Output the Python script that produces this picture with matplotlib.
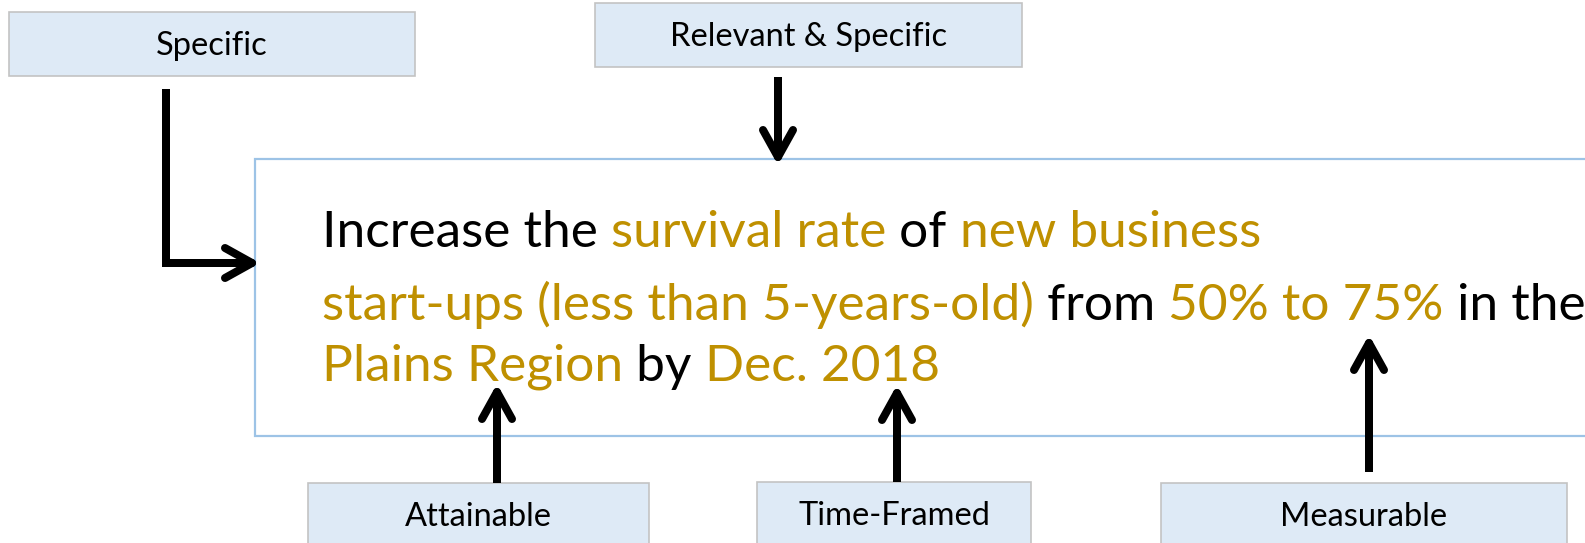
import matplotlib
matplotlib.use("Agg")
import matplotlib.pyplot as plt
from matplotlib.patches import Rectangle

# ===============================
# CONTENT
# ===============================

box_labels = ["Specific", "Relevant & Specific", "Attainable", "Time-Framed", "Measurable"]

goal_line1 = ["Increase the ", "survival rate", " of ", "new business"]
goal_line2 = ["start-ups (less than 5-years-old)", " from ", "50% to 75%", " in the"]
goal_line3 = ["Plains Region", " by ", "Dec. 2018"]
goal_lines = [goal_line1, goal_line2, goal_line3]
highlight = [[False, True, False, True],
             [True, False, True, False],
             [True, False, True]]

# ===============================
# LAYOUT / STYLE
# ===============================

W, H = 1585, 543
GOLD = "#BF9000"
BOX_FILL = "#DEEAF6"
BOX_EDGE = "#C3C3C3"
MAIN_EDGE = "#9DC3E6"
FONT = "Lato"

box_rects = [(9, 12, 415, 76), (595, 3, 1022, 67), (308, 483, 649, 547),
             (757, 482, 1031, 546), (1161, 483, 1567, 547)]
main_rect = (255, 159, 1600, 436)
text_x = 322
baselines = [247, 320, 381]
line1_width = 940
label_size = 23.5

arrows = [
    [(166, 89), (166, 263), (252, 263)],
    [(778, 77), (778, 157)],
    [(497, 483), (497, 392)],
    [(897, 482), (897, 393)],
    [(1369, 472), (1369, 343)],
]

fig = plt.figure(figsize=(W / 100, H / 100), dpi=100)
ax = fig.add_axes([0, 0, 1, 1])
ax.set_xlim(0, W)
ax.set_ylim(H, 0)
ax.axis("off")
renderer = fig.canvas.get_renderer()


def text_width(s, size):
    t = ax.text(0, 0, s + "x", fontsize=size, family=FONT)
    w1 = t.get_window_extent(renderer).width
    t.set_text("x")
    w2 = t.get_window_extent(renderer).width
    t.remove()
    return w1 - w2


# ===============================
# BOXES
# ===============================

for label, (x0, y0, x1, y1) in zip(box_labels, box_rects):
    ax.add_patch(Rectangle((x0, y0), x1 - x0, y1 - y0, facecolor=BOX_FILL,
                           edgecolor=BOX_EDGE, linewidth=1.2))
    ax.text((x0 + x1) / 2, (y0 + y1) / 2 + 11, label, fontsize=label_size,
            family=FONT, ha="center", va="baseline", color="black")

x0, y0, x1, y1 = main_rect
ax.add_patch(Rectangle((x0, y0), x1 - x0, y1 - y0, facecolor="white",
                       edgecolor=MAIN_EDGE, linewidth=1.6, clip_on=False))

# ===============================
# GOAL TEXT
# ===============================

size = 10 * line1_width / text_width("".join(goal_line1), 10)

for segs, flags, yb in zip(goal_lines, highlight, baselines):
    prefix = ""
    for seg, hl in zip(segs, flags):
        x = text_x + (text_width(prefix, size) if prefix else 0)
        ax.text(x, yb, seg, fontsize=size, family=FONT, va="baseline",
                ha="left", color=GOLD if hl else "black")
        prefix += seg

# ===============================
# ARROWS
# ===============================

lw = 8 * 0.72
back, side = 27, 15
for path in arrows:
    (xa, ya), (xb, yb) = path[-2], path[-1]
    dx, dy = xb - xa, yb - ya
    n = (dx ** 2 + dy ** 2) ** 0.5
    ux, uy = dx / n, dy / n
    xs = [p[0] for p in path]
    ys = [p[1] for p in path]
    xs[-1] -= ux * 4
    ys[-1] -= uy * 4
    ax.plot(xs, ys, color="black", lw=lw, solid_capstyle="butt",
            solid_joinstyle="miter")
    for s in (1, -1):
        ax.plot([xb - ux * back - uy * side * s, xb],
                [yb - uy * back + ux * side * s, yb],
                color="black", lw=lw, solid_capstyle="round")

fig.savefig("out.png", dpi=100)
